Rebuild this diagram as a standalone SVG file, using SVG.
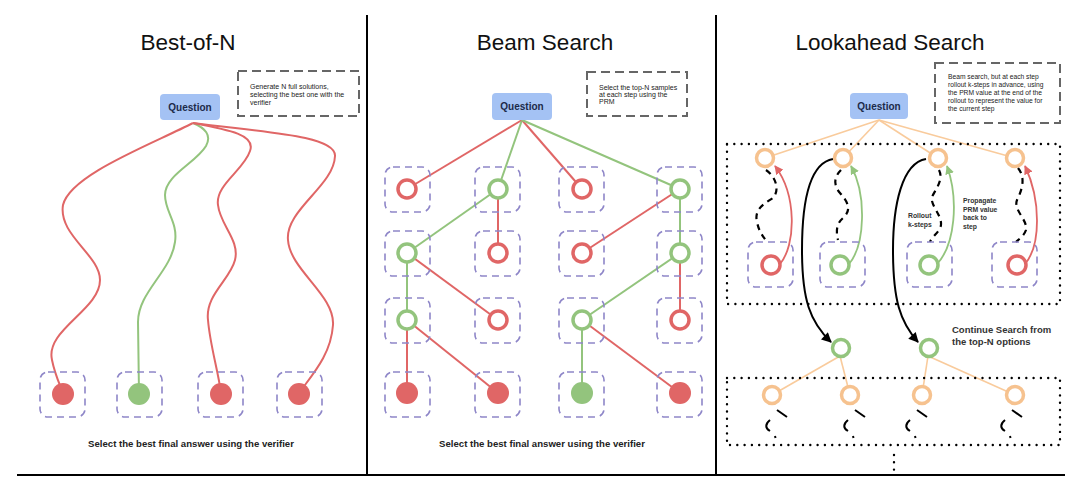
<svg xmlns="http://www.w3.org/2000/svg" width="1080" height="482" viewBox="0 0 1080 482">
<style>
text{font-family:"Liberation Sans",Arial,sans-serif}
.title{font-size:22.5px;fill:#111;text-anchor:middle}
.q{font-size:10px;font-weight:bold;fill:#1c2a4a;text-anchor:middle}
.qbox{fill:#a4c2f4}
.note{fill:none;stroke:#666;stroke-width:2;stroke-dasharray:9 5}
.nt{font-size:7px;fill:#222}
.nt2{font-size:6.7px;fill:#222}
.cap{font-size:9.6px;font-weight:bold;fill:#222;text-anchor:middle}
.lbl{font-size:9.5px;font-weight:bold;fill:#333}
.sl{font-size:6.8px;font-weight:bold;fill:#333}
.sq{fill:none;stroke:#8e86c8;stroke-width:1.6;stroke-dasharray:7 5}
.cr{fill:#fff;stroke:#e06666;stroke-width:3.5}
.cg{fill:#fff;stroke:#93c47d;stroke-width:3.5}
.co{fill:#fff;stroke:#f6c28f;stroke-width:3.5}
.fr{fill:#e06666}
.fg{fill:#93c47d}
.er{fill:none;stroke:#e06666;stroke-width:2}
.eg{fill:none;stroke:#93c47d;stroke-width:2}
.eo{fill:none;stroke:#f9cb9c;stroke-width:1.6}
.wave{fill:none;stroke:#000;stroke-width:2.2;stroke-dasharray:6 5}
.blk{fill:none;stroke:#000;stroke-width:2}
.dots{fill:none;stroke:#000;stroke-width:2.4;stroke-linecap:round;stroke-dasharray:0 7.3}
.frame{stroke:#000;stroke-width:2}
</style>
<defs>
<marker id="ar" viewBox="0 0 10 10" refX="9" refY="5" markerWidth="5" markerHeight="5" orient="auto" markerUnits="strokeWidth"><path d="M0,0 L10,5 L0,10 z" fill="#e06666"/></marker>
<marker id="ag" viewBox="0 0 10 10" refX="9" refY="5" markerWidth="5" markerHeight="5" orient="auto" markerUnits="strokeWidth"><path d="M0,0 L10,5 L0,10 z" fill="#93c47d"/></marker>
<marker id="ak" viewBox="0 0 10 10" refX="9" refY="5" markerWidth="5.5" markerHeight="5" orient="auto" markerUnits="strokeWidth"><path d="M0,0 L10,5 L0,10 z" fill="#000"/></marker>
</defs>
<rect width="1080" height="482" fill="#fff"/>

<!-- frame -->
<g id="frame">
<line class="frame" x1="367" y1="15" x2="367" y2="475"/>
<line class="frame" x1="716" y1="15" x2="716" y2="475"/>
<line class="frame" x1="17" y1="475" x2="1065" y2="475"/>
</g>

<!-- titles -->
<text class="title" x="188" y="50">Best-of-N</text>
<text class="title" x="545" y="50">Beam Search</text>
<text class="title" x="890" y="50">Lookahead Search</text>

<!-- ================= connectors ================= -->
<g id="connectors">
<!-- Best-of-N -->
<path class="er" d="M193,123 C150,145 70,175 63,205 C58,235 100,255 100,280 C100,310 45,330 52,360 C55,375 60,385 63,393"/>
<path class="eg" d="M193,123 C205,128 212,135 206,146 C196,163 165,175 165,195 C165,212 178,222 175,242 C171,272 138,292 138,322 L139,393"/>
<path class="er" d="M193,123 C230,130 256,135 250,151 C244,170 215,185 218,205 C220,225 240,240 235,260 C230,280 205,295 208,320 C210,345 218,370 221,393"/>
<path class="er" d="M193,123 C260,132 336,135 335,156 C334,186 285,210 288,240 C290,270 335,295 333,325 C331,355 312,375 299,393"/>

<!-- Beam search -->
<line class="er" x1="522" y1="120" x2="407" y2="189"/>
<line class="eg" x1="522" y1="120" x2="498" y2="189"/>
<line class="er" x1="522" y1="120" x2="582" y2="189"/>
<line class="eg" x1="522" y1="120" x2="680" y2="189"/>
<line class="eg" x1="498" y1="189" x2="407" y2="253"/>
<line class="er" x1="498" y1="189" x2="498" y2="253"/>
<line class="er" x1="680" y1="189" x2="582" y2="253"/>
<line class="eg" x1="680" y1="189" x2="680" y2="253"/>
<line class="eg" x1="407" y1="253" x2="407" y2="320"/>
<line class="er" x1="407" y1="253" x2="498" y2="320"/>
<line class="eg" x1="680" y1="253" x2="582" y2="320"/>
<line class="er" x1="680" y1="253" x2="680" y2="320"/>
<line class="er" x1="407" y1="320" x2="407" y2="393"/>
<line class="er" x1="407" y1="320" x2="498" y2="393"/>
<line class="eg" x1="582" y1="320" x2="582" y2="393"/>
<line class="er" x1="582" y1="320" x2="680" y2="393"/>

<!-- Lookahead -->
<line class="eo" x1="879" y1="120" x2="765" y2="158"/>
<line class="eo" x1="879" y1="120" x2="843" y2="158"/>
<line class="eo" x1="879" y1="120" x2="938" y2="158"/>
<line class="eo" x1="879" y1="120" x2="1015" y2="158"/>

<path class="wave" d="M766,170 C776,177 780,190 773,198 C763,204 754,210 757,222 C759,232 763,236 767,242"/>
<path class="wave" d="M841,170 C833,178 834,186 840,193 C848,202 852,210 843,218 C836,224 836,232 838,240"/>
<path class="wave" d="M939,170 C944,180 935,190 932,197 C930,205 942,215 941,225 C940,232 932,236 930,242"/>
<path class="wave" d="M1018,168 C1026,178 1022,190 1017,200 C1013,210 1028,220 1026,230 C1024,236 1019,239 1016,242"/>

<path d="M780,264 C796,245 797,195 775,166" fill="none" stroke="#e06666" stroke-width="1.8" marker-end="url(#ar)"/>
<path d="M849,264 C865,245 867,195 851,166" fill="none" stroke="#93c47d" stroke-width="1.8" marker-end="url(#ag)"/>
<path d="M937,264 C955,245 959,200 947,166" fill="none" stroke="#93c47d" stroke-width="1.8" marker-end="url(#ag)"/>
<path d="M1025,264 C1041,245 1041,200 1025,166" fill="none" stroke="#e06666" stroke-width="1.8" marker-end="url(#ar)"/>

<path class="blk" d="M833,159 C810,163 802,200 802,250 C802,300 810,322 831,342" marker-end="url(#ak)"/>
<path class="blk" d="M926,159 C902,163 893,205 893,250 C893,300 900,322 918,342" marker-end="url(#ak)"/>

<line class="eo" x1="840" y1="356" x2="772" y2="395"/>
<line class="eo" x1="840" y1="356" x2="850" y2="395"/>
<line class="eo" x1="928" y1="356" x2="922" y2="395"/>
<line class="eo" x1="928" y1="356" x2="1015" y2="395"/>

<g fill="none" stroke="#000" stroke-width="2">
<path d="M777,410 L787,417 M770,420 C765,424 765,428 770,431 M775,436 L775.5,438"/>
<path d="M855,410 L865,417 M848,420 C843,424 843,428 848,431 M853,436 L853.5,438"/>
<path d="M917,410 L927,417 M910,420 C905,424 905,428 910,431 M915,436 L915.5,438"/>
<path d="M1012,410 L1022,417 M1005,420 C1000,424 1000,428 1005,431 M1010,436 L1010.5,438"/>
</g>
<line class="dots" x1="894" y1="455" x2="894" y2="470"/>
</g>

<!-- ================= Best-of-N nodes ================= -->
<g id="bon-question"><rect class="qbox" x="160" y="94" width="60" height="26" rx="4"/><text class="q" x="190" y="110.5">Question</text></g>
<g id="bon-note"><rect class="note" x="238" y="71" width="121" height="45"/>
<text class="nt" x="250" y="88.5">Generate N full solutions,</text>
<text class="nt" x="250" y="96.5">selecting the best one with the</text>
<text class="nt" x="250" y="104.5">verifier</text></g>
<g id="bon-a1"><rect class="sq" x="40" y="372" width="45" height="45" rx="8"/><circle class="fr" cx="63" cy="394" r="11"/></g>
<g id="bon-a2"><rect class="sq" x="117" y="372" width="45" height="45" rx="8"/><circle class="fg" cx="139" cy="394" r="11"/></g>
<g id="bon-a3"><rect class="sq" x="198" y="372" width="45" height="45" rx="8"/><circle class="fr" cx="221" cy="394" r="11"/></g>
<g id="bon-a4"><rect class="sq" x="277" y="372" width="45" height="45" rx="8"/><circle class="fr" cx="299" cy="394" r="11"/></g>
<text class="cap" x="191" y="447">Select the best final answer using the verifier</text>

<!-- ================= Beam search nodes ================= -->
<g id="bs-question"><rect class="qbox" x="492" y="93" width="60" height="27" rx="4"/><text class="q" x="522" y="110">Question</text></g>
<g id="bs-note"><rect class="note" x="587" y="72" width="100" height="44"/>
<text class="nt" x="599" y="89.5">Select the top-N samples</text>
<text class="nt" x="599" y="96.5">at each step using the</text>
<text class="nt" x="599" y="104">PRM</text></g>

<g id="bs-r1c1"><rect class="sq" x="385" y="167" width="45" height="45" rx="8"/><circle class="cr" cx="407" cy="189" r="9"/></g>
<g id="bs-r1c2"><rect class="sq" x="475" y="167" width="45" height="45" rx="8"/><circle class="cg" cx="498" cy="189" r="9"/></g>
<g id="bs-r1c3"><rect class="sq" x="559" y="167" width="45" height="45" rx="8"/><circle class="cr" cx="582" cy="189" r="9"/></g>
<g id="bs-r1c4"><rect class="sq" x="657" y="167" width="45" height="45" rx="8"/><circle class="cg" cx="680" cy="189" r="9"/></g>

<g id="bs-r2c1"><rect class="sq" x="385" y="231" width="45" height="45" rx="8"/><circle class="cg" cx="407" cy="253" r="9"/></g>
<g id="bs-r2c2"><rect class="sq" x="475" y="231" width="45" height="45" rx="8"/><circle class="cr" cx="498" cy="253" r="9"/></g>
<g id="bs-r2c3"><rect class="sq" x="559" y="231" width="45" height="45" rx="8"/><circle class="cr" cx="582" cy="253" r="9"/></g>
<g id="bs-r2c4"><rect class="sq" x="657" y="231" width="45" height="45" rx="8"/><circle class="cg" cx="680" cy="253" r="9"/></g>

<g id="bs-r3c1"><rect class="sq" x="385" y="298" width="45" height="45" rx="8"/><circle class="cg" cx="407" cy="320" r="9"/></g>
<g id="bs-r3c2"><rect class="sq" x="475" y="298" width="45" height="45" rx="8"/><circle class="cr" cx="498" cy="320" r="9"/></g>
<g id="bs-r3c3"><rect class="sq" x="559" y="298" width="45" height="45" rx="8"/><circle class="cg" cx="582" cy="320" r="9"/></g>
<g id="bs-r3c4"><rect class="sq" x="657" y="298" width="45" height="45" rx="8"/><circle class="cr" cx="680" cy="320" r="9"/></g>

<g id="bs-r4c1"><rect class="sq" x="385" y="372" width="45" height="45" rx="8"/><circle class="fr" cx="407" cy="393" r="11"/></g>
<g id="bs-r4c2"><rect class="sq" x="475" y="372" width="45" height="45" rx="8"/><circle class="fr" cx="498" cy="393" r="11"/></g>
<g id="bs-r4c3"><rect class="sq" x="559" y="372" width="45" height="45" rx="8"/><circle class="fg" cx="582" cy="393" r="11"/></g>
<g id="bs-r4c4"><rect class="sq" x="657" y="372" width="45" height="45" rx="8"/><circle class="fr" cx="680" cy="393" r="11"/></g>
<text class="cap" x="542" y="447">Select the best final answer using the verifier</text>

<!-- ================= Lookahead nodes ================= -->
<g id="la-question"><rect class="qbox" x="850" y="93" width="58" height="26" rx="4"/><text class="q" x="879" y="109.5">Question</text></g>
<g id="la-note"><rect class="note" x="935" y="63" width="125" height="60"/>
<text class="nt2" x="948" y="78.5">Beam search, but at each step</text>
<text class="nt2" x="948" y="86.7">rollout k-steps in advance, using</text>
<text class="nt2" x="948" y="94.9">the PRM value at the end of the</text>
<text class="nt2" x="948" y="103.1">rollout to represent the value for</text>
<text class="nt2" x="948" y="111.3">the current step</text></g>

<g id="la-box1"><rect class="dots" x="727" y="144" width="333" height="160"/></g>
<g id="la-box2"><rect class="dots" x="727" y="378" width="333" height="67"/></g>

<g id="la-t1"><circle class="co" cx="765" cy="158" r="8.5"/></g>
<g id="la-t2"><circle class="co" cx="843" cy="158" r="8.5"/></g>
<g id="la-t3"><circle class="co" cx="938" cy="158" r="8.5"/></g>
<g id="la-t4"><circle class="co" cx="1015" cy="158" r="8.5"/></g>

<g id="la-b1"><rect class="sq" x="748" y="242" width="45" height="45" rx="8"/><circle class="cr" cx="771" cy="265" r="9"/></g>
<g id="la-b2"><rect class="sq" x="820" y="242" width="45" height="45" rx="8"/><circle class="cg" cx="840" cy="265" r="9"/></g>
<g id="la-b3"><rect class="sq" x="907" y="242" width="45" height="45" rx="8"/><circle class="cg" cx="929" cy="265" r="9"/></g>
<g id="la-b4"><rect class="sq" x="992" y="242" width="45" height="45" rx="8"/><circle class="cr" cx="1017" cy="265" r="9"/></g>

<g id="la-rollout"><text class="sl" x="908" y="218">Rollout</text><text class="sl" x="908" y="226.5">k-steps</text></g>
<g id="la-propagate"><text class="sl" x="963" y="203">Propagate</text><text class="sl" x="963" y="211.5">PRM value</text><text class="sl" x="963" y="220">back to</text><text class="sl" x="963" y="228.5">step</text></g>

<g id="la-m1"><circle class="cg" cx="841" cy="348" r="8.5"/></g>
<g id="la-m2"><circle class="cg" cx="929" cy="348" r="8.5"/></g>
<g id="la-continue"><text class="lbl" x="952" y="333">Continue Search from</text><text class="lbl" x="952" y="344.5">the top-N options</text></g>

<g id="la-l1"><circle class="co" cx="772" cy="395" r="8.5"/></g>
<g id="la-l2"><circle class="co" cx="850" cy="395" r="8.5"/></g>
<g id="la-l3"><circle class="co" cx="922" cy="395" r="8.5"/></g>
<g id="la-l4"><circle class="co" cx="1015" cy="395" r="8.5"/></g>
</svg>
